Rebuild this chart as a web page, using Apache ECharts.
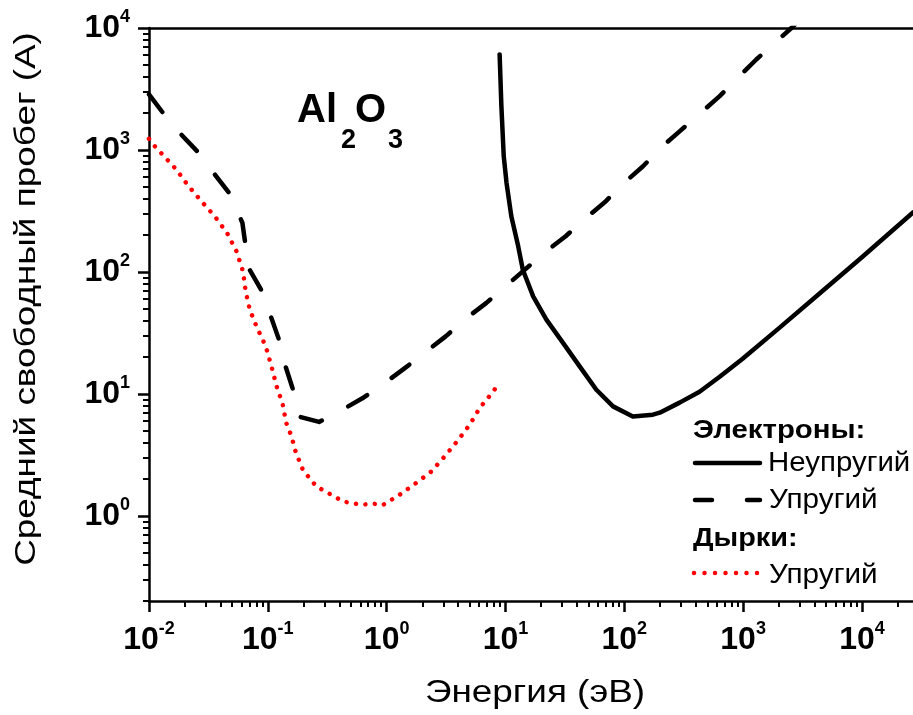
<!DOCTYPE html>
<html>
<head>
<meta charset="utf-8">
<script src="https://cdn.jsdelivr.net/npm/echarts@6/dist/echarts.min.js"></script>
<style>
  html, body { margin: 0; padding: 0; background: #ffffff; }
  #chart { width: 913px; height: 715px; }
</style>
</head>
<body>
<div id="chart"></div>
<script>
// Axis ranges and decade exponents used for the major tick labels
const xRange = [0.01, 26900];
const yRange = [0.2, 10000];
const xTickExps = [-2, -1, 0, 1, 2, 3, 4];
const yTickExps = [0, 1, 2, 3, 4];
const minorSteps = [2, 3, 4, 5, 6, 7, 8, 9];

// Electrons, inelastic mean free path (energy in eV, path in A)
const inelasticEnergy = [8.93, 9.24, 9.67, 10.2, 11.2, 12.8, 14.0, 17.1, 22.1, 30.5, 42.1, 58.2,
  80.4, 118, 174, 199, 292, 430, 635, 991, 2030, 4400, 9940, 26900];
const inelasticPath = [6070, 2290, 888, 540, 286, 162, 104, 63.0, 40.6, 26.2, 16.8, 10.8,
  7.89, 6.53, 6.75, 7.01, 8.47, 10.4, 13.8, 19.4, 34.9, 66.4, 131, 307];

// Electrons, elastic mean free path
const elasticEnergy = [0.01, 0.0131, 0.0187, 0.0259, 0.0364, 0.0484, 0.0611, 0.0651, 0.0704, 0.0883,
  0.107, 0.124, 0.141, 0.163, 0.188, 0.270, 0.416, 0.625, 0.981, 1.44, 2.16, 3.14, 4.74, 6.91,
  10.2, 14.0, 22.1, 32.1, 48.0, 68.4, 101, 143, 209, 292, 635, 1290, 2550, 3000];
const elasticPath = [2850, 2015, 1337, 957, 616, 431, 252, 162, 104, 70.6,
  42.0, 27.9, 16.8, 10.8, 6.46, 5.88, 7.33, 9.19, 12.4, 16.4, 22.3, 29.6, 42.0, 55.7,
  77.3, 101, 148, 196, 279, 372, 543, 731, 1070, 1420, 2760, 5520, 10000, 11700];

// Holes, elastic mean free path
const holeEnergy = [0.01, 0.0112, 0.0130, 0.0170, 0.0213, 0.0276, 0.0357, 0.0453, 0.0544, 0.0618,
  0.0651, 0.0704, 0.0802, 0.0960, 0.107, 0.118, 0.133, 0.143, 0.158, 0.172, 0.198, 0.256,
  0.354, 0.429, 0.613, 0.767, 0.921, 1.25, 1.72, 2.38, 3.08, 3.98, 5.00, 6.07, 7.13, 8.81];
const holePath = [1233, 1072, 917, 690, 511, 380, 286, 209, 148, 101,
  69.3, 49.1, 35.8, 24.5, 17.0, 11.7, 8.30, 5.77, 4.50, 3.31, 2.36, 1.74,
  1.46, 1.31, 1.23, 1.26, 1.22, 1.46, 1.82, 2.31, 3.07, 4.16, 5.58, 7.66, 9.25, 12.1];

const FONT = '"Liberation Sans", Arial, Helvetica, sans-serif';

function zip(xs, ys) { return xs.map((x, i) => [x, ys[i]]); }

// Decade ticks expressed as log10 positions (for the tick-only overlay axes)
function majorLogTicks(exps) { return exps.slice(); }
function minorLogTicks(range) {
  const out = [];
  const lo = Math.log10(range[0]) - 1e-9;
  const hi = Math.log10(range[1]) + 1e-9;
  for (let e = Math.floor(lo) - 1; e <= Math.ceil(hi); e++) {
    minorSteps.forEach(m => {
      const v = e + Math.log10(m);
      if (v >= lo && v <= hi) out.push(v);
    });
  }
  return out;
}

function powerLabel(v) {
  const lg = Math.log10(v);
  const e = Math.round(lg);
  if (Math.abs(lg - e) > 1e-6) return '';
  return '{b|10}{s|' + e + '}';
}

const labelRich = {
  b: { fontSize: 32, fontWeight: 'bold', lineHeight: 40, fontFamily: FONT, color: '#000' },
  s: { fontSize: 18, fontWeight: 'bold', lineHeight: 18, verticalAlign: 'top', fontFamily: FONT, color: '#000' }
};

const axisLineStyle = { color: '#000', width: 2.5 };

function tickAxis(position, range, values, length, width) {
  return {
    type: 'value', position: position,
    min: Math.log10(range[0]), max: Math.log10(range[1]),
    axisLine: { show: false, onZero: false, lineStyle: { color: '#000', width: 2.5 } },
    axisTick: { show: true, inside: false, length: length,
      lineStyle: { color: '#000', width: width }, customValues: values },
    axisLabel: { show: false }, splitLine: { show: false }
  };
}

const chart = echarts.init(document.getElementById('chart'), null, { renderer: 'canvas' });

const option = {
  animation: false,
  backgroundColor: '#ffffff',
  textStyle: { fontFamily: FONT },
  grid: { left: 149, right: 0, top: 28, bottom: 114, containLabel: false },
  xAxis: [
    {
      type: 'log', min: xRange[0], max: xRange[1], position: 'bottom',
      axisLine: { show: true, onZero: false, lineStyle: axisLineStyle },
      axisTick: { show: false },
      axisLabel: { show: true, margin: 19, formatter: powerLabel, rich: labelRich,
        customValues: xTickExps.map(e => Math.pow(10, e)), hideOverlap: false },
      splitLine: { show: false }, minorTick: { show: false }
    },
    tickAxis('bottom', xRange, majorLogTicks(xTickExps), 11, 2.5),
    tickAxis('bottom', xRange, minorLogTicks(xRange), 6, 2),
    {
      type: 'log', min: xRange[0], max: xRange[1], position: 'top',
      axisLine: { show: true, onZero: false, lineStyle: axisLineStyle },
      axisTick: { show: false }, axisLabel: { show: false }, splitLine: { show: false }
    }
  ],
  yAxis: [
    {
      type: 'log', min: yRange[0], max: yRange[1], position: 'left',
      axisLine: { show: true, onZero: false, lineStyle: axisLineStyle },
      axisTick: { show: false },
      axisLabel: { show: true, margin: 19, formatter: powerLabel, rich: labelRich,
        customValues: yTickExps.map(e => Math.pow(10, e)), hideOverlap: false },
      splitLine: { show: false }, minorTick: { show: false }
    },
    tickAxis('left', yRange, majorLogTicks(yTickExps), 11, 2.5),
    tickAxis('left', yRange, minorLogTicks(yRange), 6, 2)
  ],
  series: [
    {
      name: 'Неупругий', type: 'line', xAxisIndex: 0, yAxisIndex: 0,
      data: zip(inelasticEnergy, inelasticPath),
      showSymbol: false, smooth: false, clip: true,
      lineStyle: { color: '#000', width: 4.5, cap: 'round', join: 'round' },
      z: 3
    },
    {
      name: 'Упругий', type: 'line', xAxisIndex: 0, yAxisIndex: 0,
      data: zip(elasticEnergy, elasticPath),
      showSymbol: false, smooth: false, clip: true,
      lineStyle: { color: '#000', width: 4.5, type: [22, 30], cap: 'round', join: 'round' },
      z: 3
    },
    {
      name: 'Упругий (дырки)', type: 'line', xAxisIndex: 0, yAxisIndex: 0,
      data: zip(holeEnergy, holePath),
      showSymbol: false, smooth: false, clip: true,
      lineStyle: { color: '#ff0000', width: 4.5, type: [0.01, 9.5], cap: 'round', join: 'round' },
      z: 2
    }
  ],
  graphic: [
    // Axis titles
    { type: 'text', x: 535, y: 693, scaleX: 1.19,
      style: { text: 'Энергия (эВ)', font: '31px ' + FONT, fill: '#000', align: 'center', verticalAlign: 'middle' } },
    { type: 'text', x: 27, y: 299, rotation: Math.PI / 2, scaleX: 1.23,
      style: { text: 'Средний свободный пробег (A)', font: '30px ' + FONT, fill: '#000', align: 'center', verticalAlign: 'middle' } },

    // Compound formula
    { type: 'text', x: 297, y: 111, style: { text: 'Al', font: 'bold 40px ' + FONT, fill: '#000', align: 'left', verticalAlign: 'middle' } },
    { type: 'text', x: 341, y: 140.5, style: { text: '2', font: 'bold 27px ' + FONT, fill: '#000', align: 'left', verticalAlign: 'middle' } },
    { type: 'text', x: 355, y: 111, style: { text: 'O', font: 'bold 40px ' + FONT, fill: '#000', align: 'left', verticalAlign: 'middle' } },
    { type: 'text', x: 388, y: 140.5, style: { text: '3', font: 'bold 27px ' + FONT, fill: '#000', align: 'left', verticalAlign: 'middle' } },

    // Legend
    { type: 'text', x: 693, y: 431, scaleX: 1.13,
      style: { text: 'Электроны:', font: 'bold 26px ' + FONT, fill: '#000', align: 'left', verticalAlign: 'middle' } },
    { type: 'line', shape: { x1: 695, y1: 463, x2: 760, y2: 463 }, style: { stroke: '#000', lineWidth: 4.5, lineCap: 'round' } },
    { type: 'text', x: 768, y: 464, scaleX: 1.09,
      style: { text: 'Неупругий', font: '27px ' + FONT, fill: '#000', align: 'left', verticalAlign: 'middle' } },
    { type: 'line', shape: { x1: 695, y1: 500, x2: 760, y2: 500 }, style: { stroke: '#000', lineWidth: 4.5, lineCap: 'round', lineDash: [17, 35] } },
    { type: 'text', x: 769, y: 501, scaleX: 1.1,
      style: { text: 'Упругий', font: '27px ' + FONT, fill: '#000', align: 'left', verticalAlign: 'middle' } },
    { type: 'text', x: 693, y: 539, scaleX: 1.11,
      style: { text: 'Дырки:', font: 'bold 26px ' + FONT, fill: '#000', align: 'left', verticalAlign: 'middle' } },
    { type: 'line', shape: { x1: 694, y1: 573, x2: 757.5, y2: 573 }, style: { stroke: '#ff0000', lineWidth: 4.5, lineCap: 'round', lineDash: [0.01, 10.49] } },
    { type: 'text', x: 769, y: 576, scaleX: 1.1,
      style: { text: 'Упругий', font: '27px ' + FONT, fill: '#000', align: 'left', verticalAlign: 'middle' } }
  ]
};

chart.setOption(option);
</script>
</body>
</html>
